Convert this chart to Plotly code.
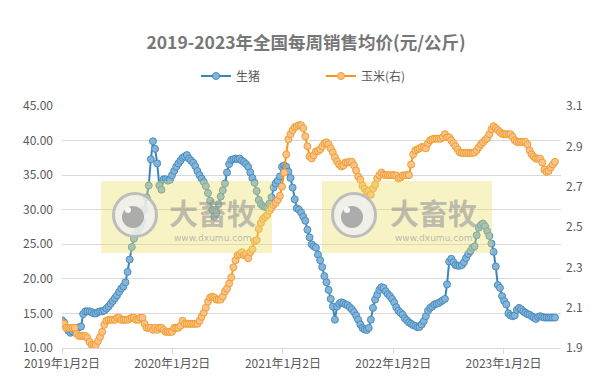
import pandas as pd
import plotly.graph_objects as go

# ---------------- data ----------------
week_start = "2019-01-02"
n_weeks = 234
weeks = pd.date_range(week_start, periods=n_weeks, freq="7D")

pig = [
    14.0, 13.7, 13.0, 12.5, 12.2, 12.4, 12.6, 12.9, 13.0, 13.1,
    14.9, 15.3, 15.3, 15.3, 15.2, 15.0, 15.0, 15.2, 15.3, 15.3,
    15.4, 15.7, 16.0, 16.4, 16.8, 17.2, 17.6, 18.1, 18.6, 18.9,
    19.5, 21.0, 22.8, 24.6, 25.8, 26.5, 27.0, 27.6, 28.3, 30.0,
    31.8, 33.5, 37.3, 39.9, 38.8, 36.7, 33.5, 32.9,
    34.4, 34.4, 34.2, 34.3, 35.0, 35.6, 36.2, 36.7, 37.1, 37.5,
    37.7, 37.9, 37.4, 37.1, 36.8, 36.3, 35.6, 35.0, 34.5, 34.0,
    33.4, 32.4, 31.3, 30.0, 29.0, 29.5, 30.8, 31.9, 32.8, 33.8,
    35.4, 36.6, 37.2, 37.3, 37.4, 37.3, 37.4, 37.1, 36.9, 36.6,
    36.2, 35.4, 34.6, 33.9, 32.7, 31.4, 30.8, 30.5, 30.4, 30.3,
    30.9, 31.8, 33.2, 33.8, 34.2, 34.8, 36.2, 36.4, 36.2, 35.5,
    34.6, 33.2, 31.5, 30.2, 30.0, 29.6, 29.0, 28.4, 27.1, 26.0,
    25.0, 24.7, 24.5, 23.5, 22.7, 21.7, 20.4, 19.5, 18.4, 17.1,
    16.0, 14.1, 16.0, 16.4, 16.6, 16.5, 16.3, 16.2, 15.9, 15.6,
    15.2, 14.7, 14.1, 13.4, 12.9, 12.7, 12.6,
    12.9, 14.1, 15.8, 17.0, 17.7, 18.4, 18.8, 18.7, 18.2, 17.8,
    17.5, 17.1, 16.6, 15.9, 15.4, 15.1, 14.8, 14.3, 14.0, 13.7,
    13.5, 13.3, 13.2, 13.0, 13.05, 13.4, 13.9, 14.6, 15.4, 15.8,
    16.0, 16.3, 16.4, 16.5, 16.7, 16.9, 17.1, 19.2, 22.5, 22.9,
    22.4, 22.0, 21.9, 21.9, 22.0, 22.4, 23.0, 23.6, 24.0, 24.5,
    24.7, 26.3, 27.4, 27.8, 28.0, 27.6, 26.9, 26.2, 25.1, 23.9,
    21.8, 19.1, 18.7, 17.5, 16.8, 16.3, 15.0, 14.7, 14.6, 14.7,
    15.5, 15.8, 15.6, 15.3, 15.1, 14.9, 14.8, 14.6, 14.4, 14.2,
    14.5, 14.6, 14.5, 14.4, 14.4, 14.4, 14.4, 14.4, 14.4,
]

corn = [
    2.025, 2.02, 2.00, 2.00, 2.00, 2.00, 2.00, 1.97, 1.96, 1.96,
    1.96, 1.96, 1.95, 1.93, 1.915, 1.915, 1.915, 1.935, 1.955, 1.98,
    2.015, 2.035, 2.04, 2.04, 2.04, 2.04, 2.05, 2.05, 2.04, 2.04,
    2.04, 2.04, 2.045, 2.05, 2.05, 2.04, 2.04, 2.05, 2.05, 2.02,
    2.00, 2.00, 2.00, 1.99, 2.00, 1.99, 2.00, 2.00,
    1.99, 1.98, 1.98, 1.98, 1.98, 2.00, 2.00, 2.00, 2.01, 2.035,
    2.02, 2.02, 2.02, 2.02, 2.02, 2.02, 2.02, 2.035, 2.055, 2.075,
    2.10, 2.13, 2.15, 2.155, 2.15, 2.14, 2.14, 2.14, 2.155, 2.18,
    2.195, 2.22, 2.25, 2.30, 2.335, 2.36, 2.365, 2.375, 2.36, 2.365,
    2.345, 2.375, 2.39, 2.43, 2.435, 2.49, 2.52, 2.54, 2.55,
    2.56, 2.58, 2.595, 2.61, 2.62, 2.635, 2.655, 2.70, 2.77, 2.86,
    2.935, 2.96, 2.98, 2.995, 3.0, 3.005, 3.005, 2.99, 2.95, 2.90,
    2.85, 2.84, 2.855, 2.875, 2.877, 2.885, 2.90, 2.915, 2.92, 2.91,
    2.89, 2.87, 2.845, 2.825, 2.81, 2.80, 2.805, 2.82, 2.82, 2.823,
    2.823, 2.806, 2.78, 2.75, 2.735, 2.705, 2.69, 2.675, 2.68, 2.66,
    2.69, 2.71,
    2.74, 2.757, 2.77, 2.76, 2.757, 2.757, 2.757, 2.757, 2.757, 2.755,
    2.74, 2.745, 2.755, 2.757, 2.757, 2.757, 2.81, 2.86, 2.88, 2.885,
    2.89, 2.897, 2.895, 2.89, 2.915, 2.93, 2.935, 2.938, 2.938, 2.938,
    2.938, 2.945, 2.96, 2.945, 2.945, 2.93, 2.915, 2.90, 2.885, 2.87,
    2.867, 2.867, 2.867, 2.867, 2.867, 2.867, 2.87, 2.88, 2.895,
    2.91, 2.92, 2.932, 2.94, 2.96, 2.985, 3.0, 2.99, 2.98, 2.97,
    2.962, 2.96, 2.96, 2.96, 2.96, 2.947, 2.93, 2.922, 2.922, 2.922,
    2.922, 2.922, 2.91, 2.88, 2.86, 2.848, 2.839, 2.839, 2.839, 2.82,
    2.785, 2.773, 2.778, 2.795, 2.81, 2.823,
]

x_tick_dates = ["2019-01-02", "2020-01-02", "2021-01-02", "2022-01-02", "2023-01-02"]
x_tick_text = ["2019年1月2日", "2020年1月2日", "2021年1月2日", "2022年1月2日", "2023年1月2日"]
left_ticks = [10, 15, 20, 25, 30, 35, 40, 45]
right_ticks = [1.9, 2.1, 2.3, 2.5, 2.7, 2.9, 3.1]
x_range = ["2019-01-02", "2023-07-11"]

title_text = "2019-2023年全国每周销售均价(元/公斤)"
name_pig = "生猪"
name_corn = "玉米(右)"

# ---------------- figure ----------------
FONT = "Noto Sans CJK SC, Noto Sans, sans-serif"
W, H = 600, 389
L, R, T, B = 62, 39, 106, 41
PW, PH = W - L - R, H - T - B


def px(x):
    return (x - L) / PW


def py(y):
    return (H - B - y) / PH


fig = go.Figure()
fig.add_trace(go.Scatter(
    x=weeks, y=pig, name=name_pig, mode="lines+markers",
    line=dict(color="#3b86b9", width=2),
    marker=dict(symbol="circle", size=7, color="#84b5d9",
                line=dict(color="#4a8dbf", width=1)),
))
fig.add_trace(go.Scatter(
    x=weeks, y=corn, name=name_corn, yaxis="y2", mode="lines+markers",
    line=dict(color="#f3981a", width=2),
    marker=dict(symbol="circle", size=7, color="#f9c28c",
                line=dict(color="#f29f2c", width=1)),
))

shapes = []
annotations = []
for (bx0, bx1, cx, tx) in [(101, 272, 135, 212), (322, 492, 354, 433)]:
    shapes.append(dict(type="rect", xref="paper", yref="paper", layer="above",
                       x0=px(bx0), x1=px(bx1), y0=py(253), y1=py(181),
                       fillcolor="rgba(236,222,95,0.36)", line=dict(width=0)))
    r = 21.5
    shapes.append(dict(type="circle", xref="paper", yref="paper", layer="above",
                       x0=px(cx - r), x1=px(cx + r), y0=py(215 + r), y1=py(215 - r),
                       fillcolor="rgba(238,238,238,0.85)",
                       line=dict(color="rgba(185,185,185,0.95)", width=3)))
    r2 = 11
    shapes.append(dict(type="circle", xref="paper", yref="paper", layer="above",
                       x0=px(cx - 2 - r2), x1=px(cx - 2 + r2), y0=py(217 + r2), y1=py(217 - r2),
                       fillcolor="rgba(168,168,168,0.95)", line=dict(width=0)))
    r3 = 3
    shapes.append(dict(type="circle", xref="paper", yref="paper", layer="above",
                       x0=px(cx - 7 - r3), x1=px(cx - 7 + r3), y0=py(210 + r3), y1=py(210 - r3),
                       fillcolor="rgba(250,250,250,0.95)", line=dict(width=0)))
    annotations.append(dict(text="<b>大畜牧</b>", xref="paper", yref="paper",
                            x=px(tx), y=py(212), showarrow=False,
                            xanchor="center", yanchor="middle",
                            font=dict(family=FONT, size=29, color="rgba(150,150,150,0.6)")))
    annotations.append(dict(text="www.dxumu.com", xref="paper", yref="paper",
                            x=px(tx), y=py(237.5), showarrow=False,
                            xanchor="center", yanchor="middle",
                            font=dict(family="DejaVu Sans, sans-serif", size=9,
                                      color="rgba(150,150,150,0.65)")))

fig.update_layout(
    width=W, height=H,
    margin=dict(l=L, r=R, t=T, b=B, pad=0),
    paper_bgcolor="white", plot_bgcolor="white",
    font=dict(family=FONT, color="#595959", size=12),
    title=dict(text="<b>" + title_text + "</b>", x=0.51, xanchor="center",
               y=1 - 43 / H, yanchor="middle",
               font=dict(family=FONT, size=17.5, color="#777777")),
    showlegend=True,
    legend=dict(orientation="h", x=px(196), xanchor="left", y=py(76), yanchor="middle",
                font=dict(family=FONT, size=12, color="#595959"),
                itemwidth=30, entrywidth=80, entrywidthmode="pixels",
                bgcolor="rgba(0,0,0,0)"),
    xaxis=dict(type="date", range=x_range, tickvals=x_tick_dates, ticktext=x_tick_text,
               showgrid=False, showline=True, linecolor="#d9d9d9", linewidth=1,
               ticks="outside", ticklen=5, tickcolor="#d9d9d9",
               tickfont=dict(family=FONT, size=12, color="#595959"), zeroline=False),
    yaxis=dict(range=[10, 45], tickvals=left_ticks, tickformat=".2f",
               showgrid=True, gridcolor="#d9d9d9", gridwidth=1,
               showline=False, zeroline=False, ticks="",
               ticklabelstandoff=8,
               tickfont=dict(family=FONT, size=12, color="#595959")),
    yaxis2=dict(range=[1.9, 3.1], tickvals=right_ticks, tickformat=".1f",
                overlaying="y", side="right", showgrid=False, zeroline=False,
                showline=False, ticks="", ticklabelstandoff=4,
                tickfont=dict(family=FONT, size=12, color="#595959")),
    shapes=shapes,
    annotations=annotations,
)

fig.write_html("out.html")
